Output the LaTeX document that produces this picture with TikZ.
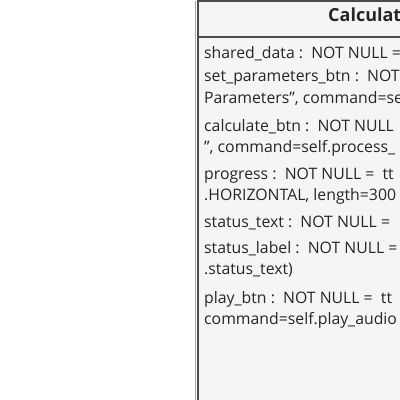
\documentclass[tikz,border=0pt]{standalone}
\usepackage{fontspec}
\setmainfont{Open Sans}
\newcommand{\dq}{\symbol{"22}}
\begin{document}
\begin{tikzpicture}[x=1pt,y=1pt,
  classbox/.style={draw=black!70, line width=1.6pt, fill=black!4},
  attr/.style={anchor=mid west, inner sep=0pt, text=black!85, font=\fontsize{15.8}{18}\selectfont},
  title/.style={anchor=mid west, inner sep=0pt, text=black!85, font=\bfseries\fontsize{18}{21}\selectfont}]
\useasboundingbox (0,0) rectangle (400,400);
\clip (0,0) rectangle (400,400);
\fill[white] (0,0) rectangle (400,400);
% class box with its soft edge
\draw[black!35, line width=1pt] (195.5,-10) -- (195.5,399);
\path[classbox] (197.8,-10) rectangle (420,399.2);
\draw[black!70, line width=1.2pt] (197.8,363) -- (420,363);
\node[title] (name) at (328,381) {Calculat};
% attributes
\node[attr] (a1)  at (204,344) {shared\_data :\ \ NOT NULL =};
\node[attr] (a2)  at (204,321) {set\_parameters\_btn :\ \ NOT};
\node[attr] (a2b) at (204,299) {Parameters\dq, command=se};
\node[attr] (a3)  at (204,271) {calculate\_btn :\ \ NOT NULL};
\node[attr] (a3b) at (204,250) {\dq, command=self.process\_};
\node[attr] (a4)  at (204,223) {progress :\ \ NOT NULL =\ \ tt};
\node[attr] (a4b) at (204,202) {.HORIZONTAL, length=300};
\node[attr] (a5)  at (204,175) {status\_text :\ \ NOT NULL =};
\node[attr] (a6)  at (204,149) {status\_label :\ \ NOT NULL =};
\node[attr] (a6b) at (204,128) {.status\_text)};
\node[attr] (a7)  at (204,99)  {play\_btn :\ \ NOT NULL =\ \ tt};
\node[attr] (a7b) at (204,78)  {command=self.play\_audio};
\end{tikzpicture}
\end{document}
